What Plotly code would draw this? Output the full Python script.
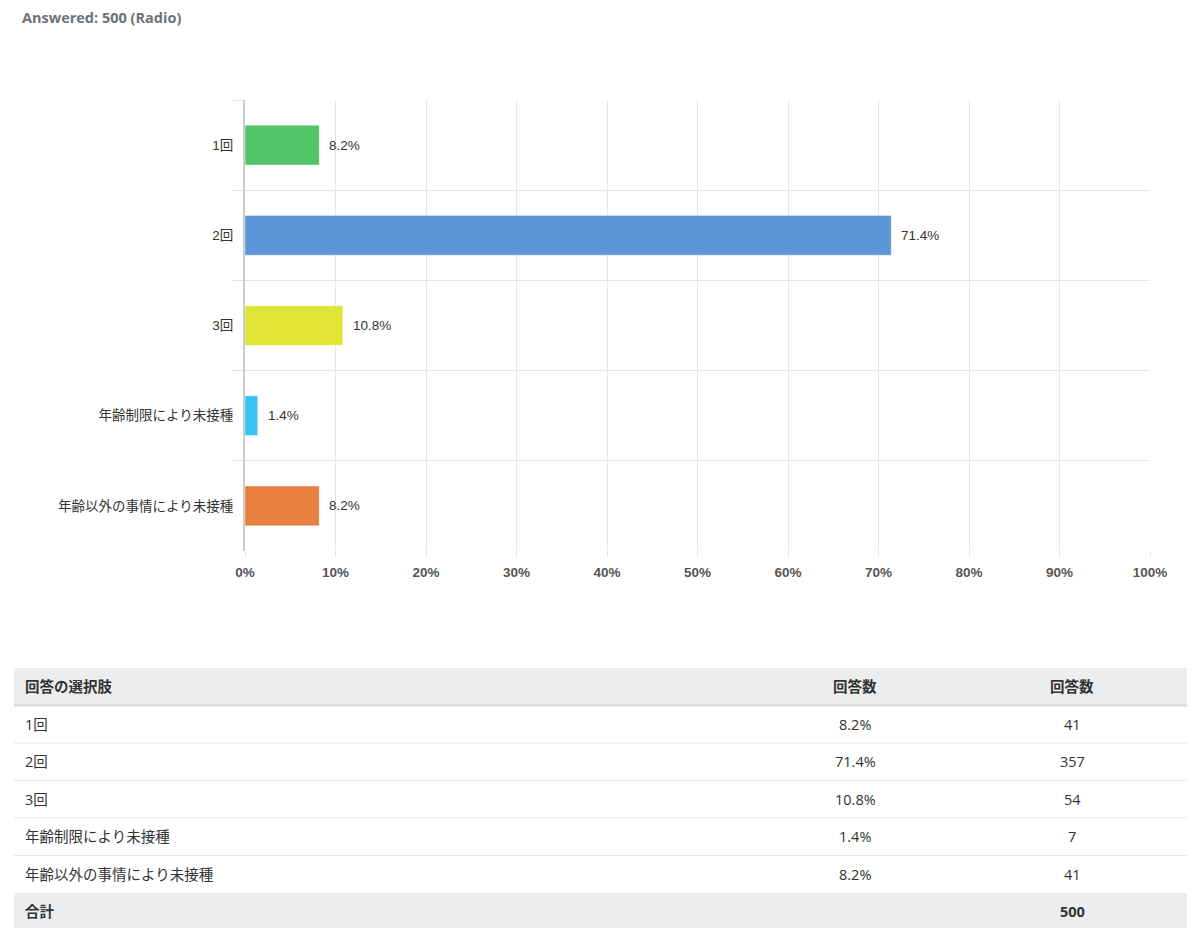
import plotly.graph_objects as go

categories = ["1回", "2回", "3回", "年齢制限により未接種", "年齢以外の事情により未接種"]
percents = [8.2, 71.4, 10.8, 1.4, 8.2]
counts = [41, 357, 54, 7, 41]
total = 500
bar_colors = ["#52c568", "#5c96d8", "#e1e536", "#36c5ee", "#e77f3f"]
x_ticks = [0, 10, 20, 30, 40, 50, 60, 70, 80, 90, 100]
x_tick_labels = [f"<b>{v}%</b>" for v in x_ticks]
table_header = ["回答の選択肢", "回答数", "回答数"]
total_label = "合計"
title_text = "Answered: 500 (Radio)"

W, H = 1184, 920
OFF = 8
def px(x):
    return (x - OFF) / W
def py(y):
    return 1 - (y - OFF) / H

FONT = "Liberation Sans, Arial, Noto Sans CJK JP, sans-serif"
TFONT = "Open Sans, Noto Sans CJK JP, sans-serif"
TSIZE = 14.5

fig = go.Figure()
fig.add_trace(go.Bar(
    x=percents, y=categories, orientation="h",
    marker=dict(color=bar_colors, line=dict(color="rgba(255,255,255,0.35)", width=1)),
    width=0.44, hoverinfo="skip",
))

annotations = []
for c, p in zip(categories, percents):
    annotations.append(dict(x=p, y=c, xref="x", yref="y", text=f"{p}%", showarrow=False,
                            xanchor="left", xshift=8, font=dict(family=FONT, size=13.5, color="#333")))

annotations.append(dict(x=px(21), y=py(17), xref="paper", yref="paper", text=f"<b>{title_text}</b>",
                        showarrow=False, xanchor="left", yanchor="middle", borderpad=0,
                        font=dict(family=TFONT, size=14.5, color="#6d7277")))

shapes = []
tx0, tx1 = 14, 1187
row_h = 37.5
y0 = 668
col1_x = 23
col2_x = 855
col3_x = 1072
shapes.append(dict(type="rect", xref="paper", yref="paper", x0=px(tx0), x1=px(tx1), y0=py(y0), y1=py(y0 + row_h),
                   fillcolor="#ecedee", line=dict(width=0), layer="below"))
shapes.append(dict(type="line", xref="paper", yref="paper", x0=px(tx0), x1=px(tx1), y0=py(y0 + row_h), y1=py(y0 + row_h),
                   line=dict(color="#d6d8db", width=2)))
def row_center(i):
    return y0 + row_h * (i + 0.5)

for j, (h, xx, anc) in enumerate(zip(table_header, [col1_x, col2_x, col3_x], ["left", "center", "center"])):
    annotations.append(dict(x=px(xx), y=py(row_center(0)), xref="paper", yref="paper", text=f"<b>{h}</b>",
                            showarrow=False, xanchor=anc, yanchor="middle",
                            font=dict(family=TFONT, size=TSIZE, color="#333")))
for i, (c, p, n) in enumerate(zip(categories, percents, counts)):
    yc = row_center(i + 1)
    annotations.append(dict(x=px(col1_x), y=py(yc), xref="paper", yref="paper", text=c, showarrow=False,
                            xanchor="left", yanchor="middle", font=dict(family=TFONT, size=TSIZE, color="#333")))
    annotations.append(dict(x=px(col2_x), y=py(yc), xref="paper", yref="paper", text=f"{p}%", showarrow=False,
                            xanchor="center", yanchor="middle", font=dict(family=TFONT, size=TSIZE, color="#333")))
    annotations.append(dict(x=px(col3_x), y=py(yc), xref="paper", yref="paper", text=str(n), showarrow=False,
                            xanchor="center", yanchor="middle", font=dict(family=TFONT, size=TSIZE, color="#333")))
    ybot = y0 + row_h * (i + 2)
    if i < len(categories) - 1:
        shapes.append(dict(type="line", xref="paper", yref="paper", x0=px(tx0), x1=px(tx1), y0=py(ybot), y1=py(ybot),
                           line=dict(color="#e4e5e7", width=1)))
ty = y0 + row_h * (len(categories) + 1)
shapes.append(dict(type="rect", xref="paper", yref="paper", x0=px(tx0), x1=px(tx1), y0=py(ty), y1=py(ty + row_h),
                   fillcolor="#ecedee", line=dict(width=0), layer="below"))
annotations.append(dict(x=px(col1_x), y=py(ty + row_h / 2), xref="paper", yref="paper", text=f"<b>{total_label}</b>",
                        showarrow=False, xanchor="left", yanchor="middle", font=dict(family=TFONT, size=TSIZE, color="#333")))
annotations.append(dict(x=px(col3_x), y=py(ty + row_h / 2), xref="paper", yref="paper", text=f"<b>{total}</b>",
                        showarrow=False, xanchor="center", yanchor="middle", font=dict(family=TFONT, size=TSIZE, color="#333")))

fig.update_layout(
    width=W, height=H, autosize=False,
    margin=dict(l=0, r=0, t=0, b=0, pad=0),
    paper_bgcolor="white", plot_bgcolor="white",
    showlegend=False,
    xaxis=dict(domain=[px(245), px(1150)], range=[0, 100], tickvals=x_ticks, ticktext=x_tick_labels,
               showgrid=True, gridcolor="#e6e6e6", gridwidth=1, zeroline=False, showline=False,
               ticks="outside", ticklen=5, tickcolor="#e6e6e6", ticklabelstandoff=4, automargin=False,
               tickfont=dict(family=FONT, size=13.5, color="#555"), fixedrange=True),
    yaxis=dict(domain=[py(551), py(100)], autorange="reversed", type="category",
               tickson="boundaries", ticks="outside", ticklen=11, tickcolor="#e0e0e0",
               showgrid=True, gridcolor="#e6e6e6", showline=True, linecolor="#cccccc", linewidth=2,
               zeroline=False, ticklabelstandoff=7, automargin=False,
               tickfont=dict(family=FONT, size=13.5, color="#333"), fixedrange=True),
    annotations=annotations,
    shapes=shapes,
)

fig.write_html("out.html")
